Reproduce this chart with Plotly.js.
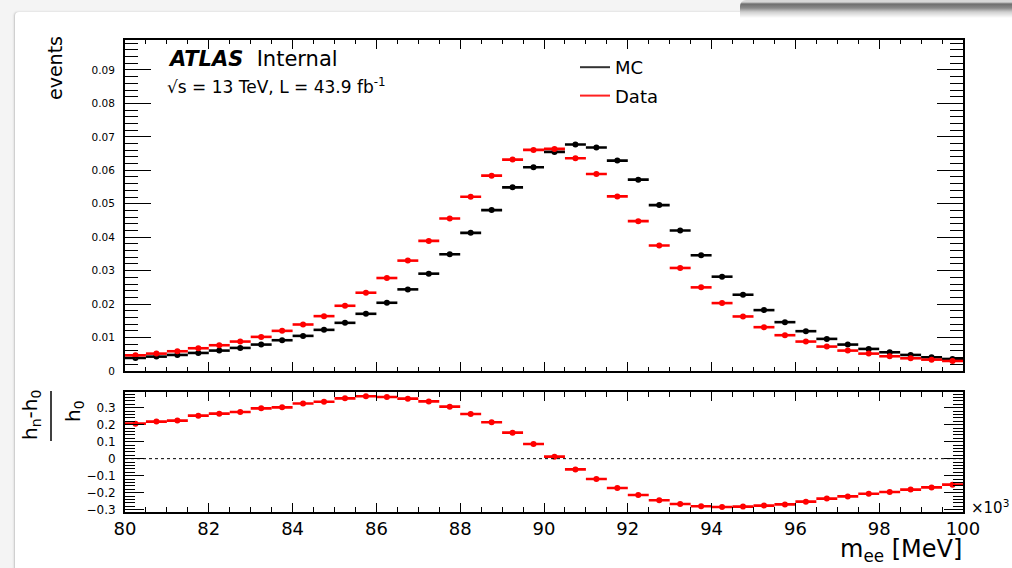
<!DOCTYPE html>
<html>
<head>
<meta charset="utf-8">
<script src="https://cdn.plot.ly/plotly-3.0.1.min.js"></script>
<style>
  html, body { margin: 0; padding: 0; background: #efefef; }
  #page { position: relative; width: 1012px; height: 568px; overflow: hidden; background: #f4f4f4; }
  #panel { position: absolute; left: 15px; top: 12px; width: 1000px; height: 560px; background: #ffffff;
           border-top-left-radius: 4px; box-shadow: -1px 0 2px #c4c4c4; }
  #shadow { position: absolute; left: 740px; top: 0; width: 272px; height: 18px;
            background: linear-gradient(to bottom, #d8d8d8 0px, #d8d8d8 2px, #6e6e6e 4px, #8a8a8a 8px, #cfcfcf 12px, #ffffff 18px);
            border-top-left-radius: 6px; }
  #chart { position: absolute; left: 0; top: 0; width: 1012px; height: 568px; }
</style>
</head>
<body>
<div id="page">
  <div id="panel"></div>
  <div id="shadow"></div>
  <div id="chart"></div>
</div>
<script>
// bin centres of m_ee (x10^3 MeV)
const binCenters = [80.25, 80.75, 81.25, 81.75, 82.25, 82.75, 83.25, 83.75, 84.25, 84.75,
                    85.25, 85.75, 86.25, 86.75, 87.25, 87.75, 88.25, 88.75, 89.25, 89.75,
                    90.25, 90.75, 91.25, 91.75, 92.25, 92.75, 93.25, 93.75, 94.25, 94.75,
                    95.25, 95.75, 96.25, 96.75, 97.25, 97.75, 98.25, 98.75, 99.25, 99.75];
const halfBinWidth = 0.25;

// normalised events, MC
const mcValues = [0.0039, 0.0043, 0.0048, 0.0054, 0.0061, 0.0069, 0.0079, 0.0092, 0.0105, 0.0123,
                  0.0144, 0.0171, 0.0204, 0.0244, 0.0291, 0.0349, 0.0413, 0.0481, 0.0549, 0.0609,
                  0.0655, 0.0677, 0.0668, 0.0629, 0.0572, 0.0496, 0.0420, 0.0346, 0.0282, 0.0228,
                  0.0182, 0.0146, 0.0119, 0.0096, 0.0079, 0.0066, 0.0056, 0.0048, 0.0041, 0.0036];

// normalised events, Data
const dataValues = [0.0047, 0.0052, 0.0059, 0.0068, 0.0077, 0.0088, 0.0102, 0.0120, 0.0139, 0.0164,
                    0.0195, 0.0234, 0.0278, 0.0330, 0.0389, 0.0456, 0.0521, 0.0584, 0.0632, 0.0661,
                    0.0664, 0.0636, 0.0589, 0.0522, 0.0448, 0.0375, 0.0308, 0.0250, 0.0203, 0.0163,
                    0.0131, 0.0107, 0.0088, 0.0073, 0.0061, 0.0052, 0.0044, 0.0038, 0.0034, 0.0030];

// (h_n - h_0)/h_0
const ratioValues = [0.206, 0.218, 0.224, 0.253, 0.265, 0.275, 0.296, 0.302, 0.325, 0.335,
                     0.355, 0.367, 0.363, 0.353, 0.337, 0.306, 0.263, 0.214, 0.153, 0.086,
                     0.012, -0.063, -0.120, -0.173, -0.214, -0.245, -0.267, -0.280, -0.284, -0.282,
                     -0.276, -0.269, -0.253, -0.235, -0.222, -0.206, -0.196, -0.182, -0.169, -0.153];

const seriesNames = ['MC', 'Data'];
const seriesColors = ['#000000', '#ff0000'];

const FONT = 'DejaVu Sans, Liberation Sans, Arial, sans-serif';
const W = 1012, H = 568;
const px = v => v / W;
const py = v => 1 - v / H;

function histTrace(y, color, xa, ya) {
  return {
    type: 'scatter', mode: 'markers', x: binCenters, y: y,
    xaxis: xa, yaxis: ya, showlegend: false, hoverinfo: 'x+y',
    marker: { color: color, size: 6, line: { width: 0 } },
    error_x: { type: 'constant', value: halfBinWidth, width: 0, thickness: 2.6, color: color }
  };
}

const traces = [
  histTrace(mcValues, seriesColors[0], 'x', 'y'),
  histTrace(dataValues, seriesColors[1], 'x', 'y'),
  histTrace(ratioValues, seriesColors[1], 'x2', 'y2'),
  { type: 'scatter', mode: 'lines', x: [null], y: [null], name: seriesNames[0], legendgroup: 'a',
    line: { color: '#333333', width: 2 }, xaxis: 'x', yaxis: 'y', showlegend: true },
  { type: 'scatter', mode: 'lines', x: [null], y: [null], name: seriesNames[1], legendgroup: 'b',
    line: { color: '#ff2020', width: 2 }, xaxis: 'x', yaxis: 'y', showlegend: true }
];

const xDomain = [px(125), px(963)];
const axisCommon = {
  showline: true, linewidth: 2, linecolor: '#000', mirror: 'ticks',
  ticks: 'inside', tickcolor: '#000', tickwidth: 1,
  showgrid: false, zeroline: false
};

const layout = {
  width: W, height: H,
  margin: { l: 0, r: 0, t: 0, b: 0 },
  paper_bgcolor: 'rgba(0,0,0,0)', plot_bgcolor: 'rgba(0,0,0,0)',
  font: { family: FONT, color: '#000' },
  showlegend: true,
  legend: {
    x: px(575), y: py(49), xanchor: 'left', yanchor: 'top',
    bgcolor: 'rgba(0,0,0,0)', borderwidth: 0,
    font: { family: FONT, size: 18, color: '#000' },
    traceorder: 'grouped', tracegroupgap: 2, itemwidth: 30
  },
  xaxis: Object.assign({}, axisCommon, {
    domain: xDomain, anchor: 'y', range: [80, 100],
    tick0: 80, dtick: 2, ticklen: 9, showticklabels: false,
    minor: { dtick: 0.5, ticklen: 4.5, ticks: 'inside', tickcolor: '#000', tickwidth: 1 }
  }),
  yaxis: Object.assign({}, axisCommon, {
    domain: [py(371), py(39.5)], anchor: 'x', range: [0, 0.0991],
    tick0: 0, dtick: 0.01, ticklen: 26, ticklabelstandoff: 6,
    tickfont: { family: FONT, size: 10.5 },
    minor: { dtick: 0.002, ticklen: 13, ticks: 'inside', tickcolor: '#000', tickwidth: 1 }
  }),
  xaxis2: Object.assign({}, axisCommon, {
    domain: xDomain, anchor: 'y2', range: [80, 100],
    tick0: 80, dtick: 2, ticklen: 9, ticklabelstandoff: 0,
    tickfont: { family: FONT, size: 18 },
    minor: { dtick: 0.5, ticklen: 5, ticks: 'inside', tickcolor: '#000', tickwidth: 1 }
  }),
  yaxis2: Object.assign({}, axisCommon, {
    domain: [py(511.7), py(391.7)], anchor: 'x2', range: [-0.312, 0.394],
    tick0: 0, dtick: 0.1, ticklen: 19, ticklabelstandoff: 5,
    tickfont: { family: FONT, size: 12 },
    minor: { dtick: 0.02, ticklen: 10, ticks: 'inside', tickcolor: '#000', tickwidth: 1 }
  }),
  shapes: [
    { type: 'line', xref: 'x2 domain', yref: 'y2', x0: 0, x1: 1, y0: 0, y1: 0,
      line: { color: '#000', width: 1, dash: 'dot' } },
    { type: 'line', xref: 'paper', yref: 'paper', x0: px(51), x1: px(51), y0: py(391), y1: py(441),
      line: { color: '#000', width: 1.5 } }
  ],
  annotations: [
    { text: '<b><i>ATLAS</i></b>  Internal', xref: 'paper', yref: 'paper',
      x: px(166), y: py(59), xanchor: 'left', yanchor: 'middle', showarrow: false,
      font: { family: FONT, size: 21 } },
    { text: '√s = 13 TeV, L = 43.9 fb<sup>-1</sup>', xref: 'paper', yref: 'paper',
      x: px(165), y: py(86), xanchor: 'left', yanchor: 'middle', showarrow: false,
      font: { family: FONT, size: 17 } },
    { text: 'events', xref: 'paper', yref: 'paper', textangle: -90,
      x: px(55), y: py(68), xanchor: 'center', yanchor: 'middle', showarrow: false,
      font: { family: FONT, size: 19 } },
    { text: 'h<sub>n</sub>-h<sub>0</sub>', xref: 'paper', yref: 'paper', textangle: -90,
      x: px(31), y: py(415), xanchor: 'center', yanchor: 'middle', showarrow: false,
      font: { family: FONT, size: 20 } },
    { text: 'h<sub>0</sub>', xref: 'paper', yref: 'paper', textangle: -90,
      x: px(74), y: py(411), xanchor: 'center', yanchor: 'middle', showarrow: false,
      font: { family: FONT, size: 20 } },
    { text: 'm<sub>ee</sub> [MeV]', xref: 'paper', yref: 'paper',
      x: px(964), y: py(550), xanchor: 'right', yanchor: 'middle', showarrow: false,
      font: { family: FONT, size: 24 } },
    { text: '×10<sup>3</sup>', xref: 'paper', yref: 'paper',
      x: px(969), y: py(507), xanchor: 'left', yanchor: 'middle', showarrow: false,
      font: { family: FONT, size: 15 } }
  ]
};

Plotly.newPlot('chart', traces, layout, { displayModeBar: false, staticPlot: true });
</script>
</body>
</html>
